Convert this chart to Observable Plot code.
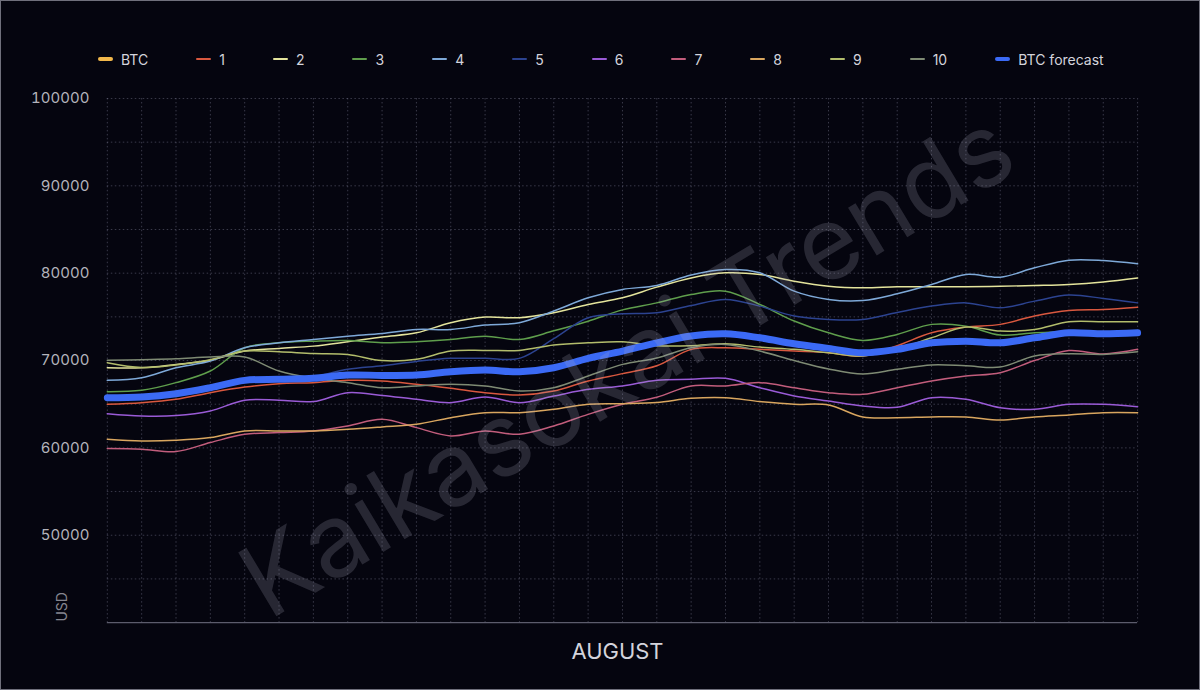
<!DOCTYPE html>
<html><head><meta charset="utf-8">
<script src="https://cdn.jsdelivr.net/npm/d3@7"></script>
<script src="https://cdn.jsdelivr.net/npm/@observablehq/plot@0.6"></script>
<style>
html,body{margin:0;padding:0;background:#05050f;}
#frame{position:relative;width:1198px;height:688px;border:1px solid #70707c;background:#05050f;overflow:hidden;font-family:Inter,"Noto Sans",sans-serif;}
#legend{position:absolute;left:97px;top:49px;display:flex;gap:48px;align-items:center;height:18px;color:#d4d4dc;font-size:14px;}
.item{display:flex;align-items:center;gap:8px;white-space:nowrap;}
.sw{width:15px;border-radius:2px;}
#chart{position:absolute;left:0;top:80px;}
#wm{position:absolute;left:625px;top:362px;transform:translate(-50%,-50%) rotate(-31deg);font-size:102px;color:rgba(175,175,195,0.2);white-space:nowrap;pointer-events:none;font-family:Inter,sans-serif;}
</style></head>
<body>
<div id="frame">
  <div id="legend"></div>
  <div id="chart"></div>
  <div id="wm">Kaikasokai Trends</div>
</div>
<script>
const days = [1,2,3,4,5,6,7,8,9,10,11,12,13,14,15,16,17,18,19,20,21,22,23,24,25,26,27,28,29,30,31];
const yTicks = [50000,60000,70000,80000,90000,100000];
const gridY = [45000,50000,55000,60000,65000,70000,75000,80000,85000,90000,95000,100000];
const legendNames = ["BTC","1","2","3","4","5","6","7","8","9","10","BTC forecast"];
const legendColors = ["#f2b84b","#d9583f","#e4e49c","#5f9e4c","#7ea9d8","#2c4390","#9a5bd6","#c25d7c","#d9a65f","#b3bd6c","#7f8b74","#3b6af5"];
const btc = [];
const s1 = [64990,65180,65560,66320,66960,67350,67470,67730,67660,67280,66820,66320,66060,66510,67660,68500,69400,71280,71460,71280,71080,70890,70520,71700,73170,73830,74140,75100,75730,75850,76110];
const s2 = [69170,69170,69560,70020,71080,71390,71650,72150,72700,73170,74330,74970,74900,75470,76420,77180,78400,79460,80040,79850,79080,78510,78320,78440,78440,78440,78500,78590,78710,79000,79460];
const s3 = [66430,66590,67470,68800,71460,72030,72220,72300,72030,72150,72410,72790,72410,73400,74500,75800,76600,77560,77940,76420,74520,73170,72300,72990,74140,73940,72910,73170,73300,73200,73300];
const s4 = [67730,68030,69170,69940,71460,72030,72410,72790,73100,73550,73550,74060,74330,75670,77180,78140,78600,79800,80420,80040,77940,76990,76870,77640,78710,79850,79540,80610,81490,81450,81070];
const s5 = [65900,65950,66300,67000,67800,67950,68150,69000,69400,69900,70250,70250,70250,72500,74900,75350,75470,76300,77000,76230,75100,74700,74700,75500,76230,76600,76030,76800,77490,77110,76600];
const s6 = [63920,63650,63700,64230,65460,65460,65300,66320,66000,65560,65180,65830,65180,65940,66700,67090,67750,67850,67960,66890,65940,65370,64800,64650,65750,65560,64600,64410,64990,64990,64720];
const s7 = [59920,59850,59580,60610,61560,61750,61940,62510,63270,62320,61370,61940,61560,62510,63840,64990,65800,67090,67090,67470,66890,66320,66130,66890,67660,68230,68610,70000,71140,70760,71280];
const s8 = [61000,60800,60880,61180,61940,61940,61940,62130,62400,62700,63460,64030,64030,64410,64990,65060,65200,65680,65750,65300,64990,64910,63540,63460,63540,63540,63200,63540,63770,64030,64030];
const s9 = [69750,69200,69500,70100,71080,71000,70800,70700,70000,70140,71080,71160,71160,71770,72030,72150,71700,71700,71920,71540,71280,70890,70520,71300,72600,73830,73370,73560,74440,74440,74440];
const s10 = [70020,70100,70200,70400,70400,68800,67960,67470,66890,67090,67280,67090,66510,66890,68230,69560,70300,71460,71840,71080,70000,69040,68460,69000,69490,69400,69250,70520,70780,70700,71000];
const forecast = [65750,65830,66200,66890,67730,67850,67960,68340,68300,68340,68720,68910,68720,69180,70250,71080,72030,72800,73060,72600,71920,71390,70890,71280,72030,72220,72030,72600,73170,73060,73170];

const seriesNames = ["1","2","3","4","5","6","7","8","9","10"];
const seriesVals = [s1,s2,s3,s4,s5,s6,s7,s8,s9,s10];
const rows = [];
seriesNames.forEach((n,i)=>seriesVals[i].forEach((v,j)=>rows.push({series:n, day:days[j], value:v})));
const fc = forecast.map((v,j)=>({day:days[j], value:v}));

// legend
const lg = document.getElementById("legend");
legendNames.forEach((n,i)=>{
  const it = document.createElement("div"); it.className="item";
  const sw = document.createElement("div"); sw.className="sw";
  const thick = (n==="BTC"||n==="BTC forecast");
  sw.style.height = thick ? "4px" : "2px";
  sw.style.background = legendColors[i];
  const tx = document.createElement("span"); tx.textContent = n;
  it.appendChild(sw); it.appendChild(tx); lg.appendChild(it);
});

const grid = {stroke:"#9a9ab4", strokeOpacity:0.36, strokeDasharray:"1.5,2.5", strokeWidth:1};
const chart = Plot.plot({
  width:1200, height:600,
  marginLeft:106, marginRight:62, marginTop:17, marginBottom:58,
  style:{background:"transparent", color:"#b4b4bc", fontFamily:"Inter, sans-serif", fontSize:"15px"},
  x:{domain:[1,31], axis:null},
  y:{domain:[40000,100000], axis:null},
  color:{domain:legendNames, range:legendColors},
  marks:[
    Plot.ruleY(gridY, grid),
    Plot.ruleX(days, grid),
    Plot.ruleY([40000], {stroke:"#5c5c6c", strokeWidth:1.2}),
    Plot.axisY({ticks:yTicks, tickSize:0, tickPadding:18, tickFormat:d=>String(d), label:null, fill:"#b4b4bc", fontSize:15}),
    Plot.lineY(rows, {x:"day", y:"value", z:"series", stroke:"series", strokeWidth:1.5, curve:"catmull-rom"}),
    Plot.lineY(fc, {x:"day", y:"value", stroke:"#3b6af5", strokeWidth:7, curve:"catmull-rom", strokeLinecap:"round"}),
    Plot.text(["AUGUST"], {frameAnchor:"bottom", dy:36, dx:-5, fontSize:22, fill:"#d4d4dc"}),
    Plot.text(["USD"], {frameAnchor:"bottom-left", rotate:-90, textAnchor:"start", dx:-40, dy:-1, fontSize:14, fill:"#85858f"})
  ]
});
document.getElementById("chart").appendChild(chart);
</script>
</body></html>
